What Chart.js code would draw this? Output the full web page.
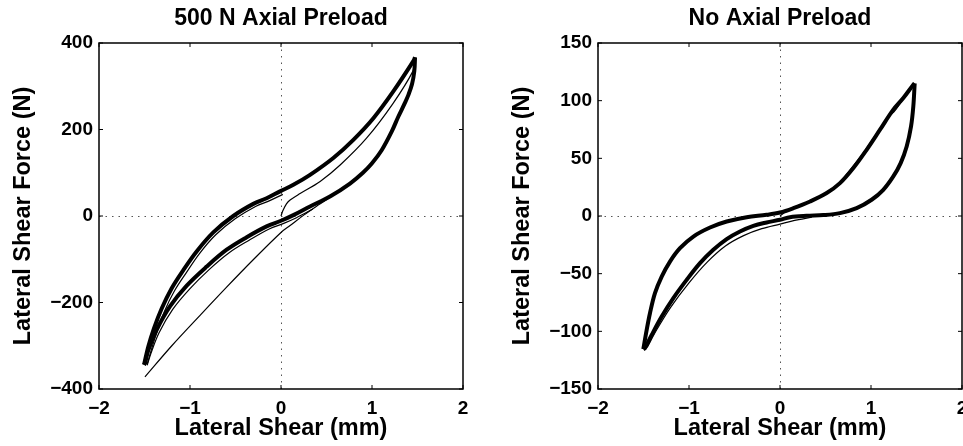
<!DOCTYPE html>
<html>
<head>
<meta charset="utf-8">
<script src="https://cdn.jsdelivr.net/npm/chart.js@4.4.1/dist/chart.umd.min.js"></script>
<style>
  html, body { margin: 0; padding: 0; background: #fff; overflow: hidden; width: 963px; height: 446px; }
  #leftWrap { position: absolute; left: 0; top: 0; width: 480px; height: 446px; }
  #rightWrap { position: absolute; left: 480px; top: 0; width: 500px; height: 446px; }
</style>
</head>
<body>
<div id="leftWrap"><canvas id="preloadChart" width="480" height="446"></canvas></div>
<div id="rightWrap"><canvas id="noPreloadChart" width="500" height="446"></canvas></div>
<script>
// Painel esquerdo: 500 N de pré-carga axial
const preUpperX = [-1.505, -1.458, -1.396, -1.311, -1.201, -1.073, -0.927, -0.744, -0.524, -0.304, -0.158, -0.011, 0.136, 0.319, 0.575, 0.795, 1.015, 1.234, 1.454, 1.473];
const preUpperY = [-344, -302, -260, -214, -167, -125, -82, -38, 0, 28, 41, 57, 72, 95, 134, 176, 226, 288, 358, 367];
const preLowerX = [1.473, 1.465, 1.44, 1.4, 1.363, 1.29, 1.216, 1.106, 1.0, 0.9, 0.758, 0.538, 0.319, 0.136, 0, -0.158, -0.377, -0.597, -0.817, -1.036, -1.22, -1.366, -1.458, -1.495, -1.505];
const preLowerY = [367, 335, 305, 280, 262, 230, 195, 152, 122, 100, 75, 45, 22, 2, -11, -24, -49, -78, -117, -161, -209, -263, -310, -341, -344];
const preUpper2X = [-1.47, -1.42, -1.36, -1.28, -1.17, -1.04, -0.9, -0.72, -0.5, -0.28, -0.13, 0.02];
const preUpper2Y = [-342, -306, -266, -220, -173, -131, -88, -44, -6, 22, 35, 50];
const preLower2X = [0.35, 0.17, 0.03, -0.13, -0.35, -0.57, -0.79, -1.0, -1.19, -1.34, -1.43, -1.47];
const preLower2Y = [16, -4, -17, -30, -56, -85, -124, -168, -216, -270, -318, -345];
const preStartX = [0, 0.02, 0.06, 0.1, 0.21, 0.43, 0.65, 0.94, 1.23, 1.45, 1.473];
const preStartY = [0, 12, 28, 37, 52, 80, 118, 180, 260, 335, 360];
const preEndX = [0.55, 0.4, 0.25, 0.1, 0, -0.3, -0.6, -0.9, -1.2, -1.495];
const preEndY = [45, 24, 2, -22, -38, -100, -165, -232, -300, -372];

// Painel direito: sem pré-carga axial
const noUpperX = [-1.502, -1.465, -1.429, -1.374, -1.3, -1.209, -1.099, -0.952, -0.769, -0.586, -0.366, -0.147, 0, 0.147, 0.33, 0.513, 0.659, 0.806, 0.952, 1.099, 1.245, 1.355, 1.465, 1.48];
const noUpperY = [-115.5, -98.8, -84.3, -66.9, -52.5, -39.5, -27.9, -17.8, -10, -4.8, -1, 1, 3, 6.8, 12.6, 19.9, 28.5, 41.6, 57.4, 74.8, 92.2, 102.3, 113.9, 115];
const noLowerX = [1.48, 1.465, 1.44, 1.392, 1.326, 1.245, 1.135, 1.007, 0.842, 0.659, 0.476, 0.293, 0.11, 0, -0.147, -0.293, -0.44, -0.586, -0.733, -0.879, -1.026, -1.172, -1.3, -1.41, -1.484, -1.502];
const noLowerY = [115, 95, 77.7, 60.3, 45.9, 34.3, 22.7, 14.1, 6.8, 2.5, 0.8, 0.2, -1, -3.3, -5.6, -8.5, -13.4, -20, -29.3, -40.9, -55.4, -71.2, -87.2, -103.1, -114.6, -115.5];
const noLower2X = [0.35, 0.15, 0, -0.2, -0.4, -0.6, -0.8, -1.0, -1.2, -1.35, -1.46];
const noLower2Y = [-1, -4, -7, -11, -17, -26, -40, -58, -79, -98, -114];
const noUpper2X = [0.7, 0.9, 1.05, 1.15, 1.2, 1.25, 1.35, 1.47];
const noUpper2Y = [33, 53, 70, 80, 87, 90, 101, 114];
const noStartX = [0, 0.05, 0.12, 0.2, 0.28];
const noStartY = [0, 3, 6.5, 9, 11];

// Eixos
const xTicks = [-2, -1, 0, 1, 2];
const preTicks = [-400, -200, 0, 200, 400];
const noTicks = [-150, -100, -50, 0, 50, 100, 150];

const FONT = "'Liberation Sans', Arial, Helvetica, sans-serif";

function pts(xs, ys) {
  return xs.map((x, i) => ({ x: x, y: ys[i] }));
}

function curve(xs, ys, width) {
  return {
    data: pts(xs, ys),
    showLine: true,
    borderColor: "#000",
    borderWidth: width,
    pointRadius: 0,
    fill: false,
    tension: 0.35,
  };
}

function fmt(v) {
  return v < 0 ? "\u2212" + Math.abs(v) : String(v);
}

// Caixa estilo MATLAB, marcas internas e título do painel
const matlabBox = {
  id: "matlabBox",
  afterDraw(chart, args, opts) {
    const { ctx, chartArea: a, scales } = chart;
    ctx.save();
    ctx.strokeStyle = "#000";
    ctx.lineWidth = 1;
    ctx.beginPath();
    scales.x.ticks.forEach((t) => {
      const px = scales.x.getPixelForValue(t.value);
      ctx.moveTo(px, a.bottom);
      ctx.lineTo(px, a.bottom - 4);
      ctx.moveTo(px, a.top);
      ctx.lineTo(px, a.top + 4);
    });
    scales.y.ticks.forEach((t) => {
      const py = scales.y.getPixelForValue(t.value);
      ctx.moveTo(a.left, py);
      ctx.lineTo(a.left + 4, py);
      ctx.moveTo(a.right, py);
      ctx.lineTo(a.right - 4, py);
    });
    ctx.stroke();
    ctx.lineWidth = 1.5;
    ctx.strokeRect(a.left, a.top, a.right - a.left, a.bottom - a.top);
    ctx.fillStyle = "#000";
    ctx.font = "bold 23px " + FONT;
    ctx.textAlign = "center";
    ctx.textBaseline = "middle";
    ctx.fillText(opts.text, (a.left + a.right) / 2, opts.y);
    ctx.restore();
  },
};

function makeChart(id, datasets, yTicks, opts) {
  const yMin = yTicks[0];
  const yMax = yTicks[yTicks.length - 1];
  return new Chart(document.getElementById(id), {
    type: "scatter",
    data: { datasets: datasets },
    plugins: [matlabBox],
    options: {
      responsive: false,
      animation: false,
      layout: { padding: { top: 43, right: opts.padRight, left: 0, bottom: 0 } },
      plugins: {
        legend: { display: false },
        tooltip: { enabled: false },
        matlabBox: { text: opts.title, y: 19 },
      },
      scales: {
        x: {
          type: "linear",
          min: xTicks[0],
          max: xTicks[xTicks.length - 1],
          afterBuildTicks: (s) => { s.ticks = xTicks.map((v) => ({ value: v })); },
          afterFit: (s) => { s.height = 57; },
          ticks: {
            color: "#000",
            padding: 8,
            font: { family: FONT, size: 19, weight: "bold" },
            callback: fmt,
          },
          grid: {
            drawTicks: false,
            lineWidth: 1,
            color: (c) => (c.tick && c.tick.value === 0 ? "#555" : "rgba(0,0,0,0)"),
          },
          border: { display: false, dash: [1.5, 5] },
          title: {
            display: true,
            text: "Lateral Shear (mm)",
            color: "#000",
            font: { family: FONT, size: 23.5, weight: "bold" },
            padding: { top: 0, bottom: 3 },
          },
        },
        y: {
          type: "linear",
          min: yMin,
          max: yMax,
          afterBuildTicks: (s) => { s.ticks = yTicks.map((v) => ({ value: v })); },
          afterFit: (s) => { s.width = opts.yWidth; },
          ticks: {
            color: "#000",
            padding: 6,
            font: { family: FONT, size: 19, weight: "bold" },
            callback: fmt,
          },
          grid: {
            drawTicks: false,
            lineWidth: 1,
            color: (c) => (c.tick && c.tick.value === 0 ? "#555" : "rgba(0,0,0,0)"),
          },
          border: { display: false, dash: [1.5, 5] },
          title: {
            display: true,
            text: "Lateral Shear Force (N)",
            color: "#000",
            font: { family: FONT, size: 23.5, weight: "bold" },
            padding: { top: opts.yTitlePad, bottom: 0 },
          },
        },
      },
    },
  });
}

makeChart("preloadChart", [
  curve(preUpperX, preUpperY, 4),
  curve(preLowerX, preLowerY, 4),
  curve(preUpper2X, preUpper2Y, 1.2),
  curve(preLower2X, preLower2Y, 1.2),
  curve(preStartX, preStartY, 1.2),
  curve(preEndX, preEndY, 1.2),
], preTicks, { title: "500 N Axial Preload", padRight: 17, yWidth: 99, yTitlePad: 9 });

makeChart("noPreloadChart", [
  curve(noUpperX, noUpperY, 4),
  curve(noLowerX, noLowerY, 4),
  curve(noLower2X, noLower2Y, 1.2),
  curve(noUpper2X, noUpper2Y, 1.2),
  curve(noStartX, noStartY, 1.2),
], noTicks, { title: "No Axial Preload", padRight: 18, yWidth: 118, yTitlePad: 28 });
</script>
</body>
</html>
